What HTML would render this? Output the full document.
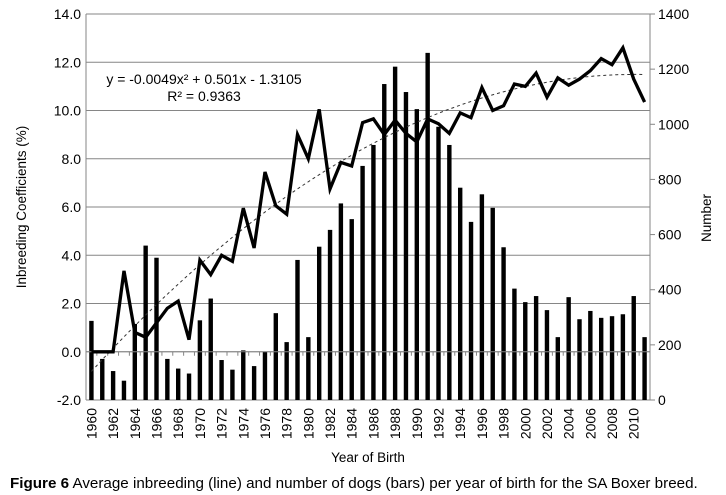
<!DOCTYPE html>
<html><head><meta charset="utf-8"><style>
body{margin:0;background:#fff;}
svg{display:block;font-family:"Liberation Sans",Arial,sans-serif;}
</style></head><body>
<svg id="chart" width="726" height="495" viewBox="0 0 726 495" xmlns="http://www.w3.org/2000/svg">
<g id="grid"></g>
<g id="bars"></g>
<g id="axes"></g>
<g id="trend"></g>
<g id="line"></g>
<text x="204" y="84" font-size="14" text-anchor="middle">y = -0.0049x² + 0.501x - 1.3105</text>
<text x="204" y="101" font-size="14" text-anchor="middle">R² = 0.9363</text>
<text transform="translate(26,207) rotate(-90)" font-size="13.5" text-anchor="middle">Inbreeding Coefficients (%)</text>
<text transform="translate(711,218) rotate(-90)" font-size="13.5" text-anchor="middle">Number</text>
<text x="368" y="462" font-size="13.5" text-anchor="middle">Year of Birth</text>
<text x="10" y="488" font-size="15.2"><tspan font-weight="bold">Figure 6</tspan> Average inbreeding (line) and number of dogs (bars) per year of birth for the SA Boxer breed.</text>
</svg>
<script>
const years = [];
for (let y = 1960; y <= 2011; y++) years.push(y);
const dogCounts = [287,149,105,70,276,560,516,149,114,96,289,368,145,110,180,123,175,315,210,508,228,556,617,713,656,849,925,1146,1209,1117,1055,1259,991,925,770,646,746,697,554,404,355,377,326,228,373,293,323,298,304,311,377,228];
const inbreeding = [0,0,0,3.35,0.8,0.6,1.2,1.8,2.1,0.5,3.8,3.2,4.0,3.75,5.95,4.3,7.45,6.05,5.7,9.0,8.0,10.05,6.75,7.85,7.7,9.5,9.65,9.0,9.6,9.05,8.7,9.65,9.45,9.05,9.9,9.7,10.95,10.0,10.2,11.1,11.0,11.55,10.55,11.35,11.05,11.3,11.65,12.15,11.9,12.6,11.3,10.35];
const leftTicks = [-2,0,2,4,6,8,10,12,14];
const rightTicks = [0,200,400,600,800,1000,1200,1400];
const trendCoef = [-0.0049, 0.501, -1.3105];

const NS = "http://www.w3.org/2000/svg";
const X0 = 86, X1 = 650, YT = 14, YB = 400;
const bw = (X1 - X0) / years.length;
const xc = i => X0 + bw * (i + 0.5);
const yL = v => YB - (v + 2) / 16 * (YB - YT);
const yR = v => YB - v / 1400 * (YB - YT);
function mk(tag, attrs, parent, txt) {
  const e = document.createElementNS(NS, tag);
  for (const k in attrs) e.setAttribute(k, attrs[k]);
  if (txt !== undefined) e.textContent = txt;
  document.getElementById(parent).appendChild(e);
  return e;
}
leftTicks.forEach(v => {
  const g = mk('line', {x1: X0, x2: X1, y1: yL(v), y2: yL(v), stroke: '#868686', 'stroke-width': 1}, 'grid');
  
  
  const t = mk('text', {x: X0 - 5, y: yL(v) + 5, 'font-size': 14, 'text-anchor': 'end'}, 'axes', v.toFixed(1));
  
  
});
mk('line', {x1: X0, x2: X0, y1: YT, y2: YB, stroke: '#868686'}, 'axes');
mk('line', {x1: X1, x2: X1, y1: YT, y2: YB, stroke: '#868686'}, 'axes');
rightTicks.forEach(v => {
  mk('line', {x1: X1, x2: X1 + 5, y1: yR(v), y2: yR(v), stroke: '#868686'}, 'axes');
  const t = mk('text', {x: X1 + 8, y: yR(v) + 5, 'font-size': 14}, 'axes', String(v));
  
  
});
dogCounts.forEach((v, i) => {
  const r = mk('rect', {x: xc(i) - 2.2, y: yR(v), width: 4.4, height: YB - yR(v), fill: '#000'}, 'bars');
  
  
});
const y0 = yL(0);
mk('line', {x1: X0, x2: X1, y1: y0, y2: y0, stroke: '#868686'}, 'axes');
years.forEach((yr, i) => {
  mk('line', {x1: X0 + bw * i, x2: X0 + bw * i, y1: y0, y2: y0 + 4, stroke: '#868686'}, 'axes');
  if (i % 2 === 0) {
    const t = mk('text', {transform: `translate(${xc(i) + 5},408) rotate(-90)`, 'font-size': 14, 'text-anchor': 'end'}, 'axes', String(yr));
    
    
  }
});
let tp = '';
for (let k = 0; k <= 100; k++) {
  const x = 1 + k * 51 / 100;
  const v = trendCoef[0] * x * x + trendCoef[1] * x + trendCoef[2];
  tp += (k ? 'L' : 'M') + (X0 + bw * (x - 0.5)).toFixed(1) + ',' + yL(v).toFixed(1);
}
mk('path', {d: tp, fill: 'none', stroke: '#333', 'stroke-width': 1, 'stroke-dasharray': '3,3'}, 'trend');
const lp = inbreeding.map((v, i) => (i ? 'L' : 'M') + xc(i).toFixed(1) + ',' + yL(v).toFixed(1)).join('');
mk('path', {d: lp, fill: 'none', stroke: '#000', 'stroke-width': 3.3, 'stroke-linejoin': 'miter'}, 'line');
</script>
</body></html>
